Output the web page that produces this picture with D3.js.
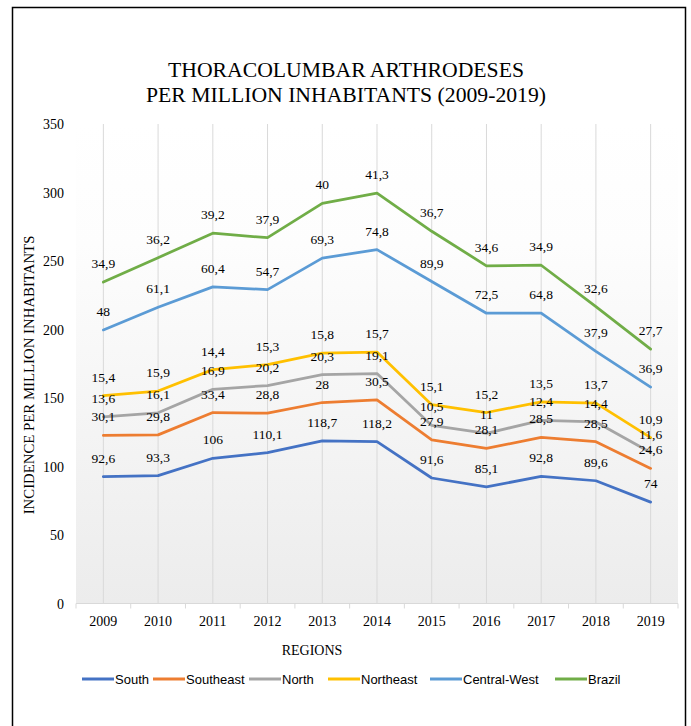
<!DOCTYPE html>
<html>
<head>
<meta charset="utf-8">
<script src="https://cdn.jsdelivr.net/npm/d3@7"></script>
<style>
  html, body { margin: 0; padding: 0; background: #fff; }
  svg text { fill: #000; }
</style>
</head>
<body>
<div id="chart"></div>
<script>
'use strict';

// years on the x axis
const years = ['2009', '2010', '2011', '2012', '2013', '2014', '2015', '2016', '2017', '2018', '2019'];

// per-region incidence (stacked in this order)
const south       = [92.6, 93.3, 106, 110.1, 118.7, 118.2, 91.6, 85.1, 92.8, 89.6, 74];
const southeast   = [30.1, 29.8, 33.4, 28.8, 28, 30.5, 27.9, 28.1, 28.5, 28.5, 24.6];
const north       = [13.6, 16.1, 16.9, 20.2, 20.3, 19.1, 10.5, 11, 12.4, 14.4, 11.6];
const northeast   = [15.4, 15.9, 14.4, 15.3, 15.8, 15.7, 15.1, 15.2, 13.5, 13.7, 10.9];
const centralWest = [48, 61.1, 60.4, 54.7, 69.3, 74.8, 89.9, 72.5, 64.8, 37.9, 36.9];
const brazil      = [34.9, 36.2, 39.2, 37.9, 40, 41.3, 36.7, 34.6, 34.9, 32.6, 27.7];

const seriesNames = ['South', 'Southeast', 'North', 'Northeast', 'Central-West', 'Brazil'];
const seriesVals  = [south, southeast, north, northeast, centralWest, brazil];
const yTicks      = [0, 50, 100, 150, 200, 250, 300, 350];

const colors = ['#4472C4', '#ED7D31', '#A5A5A5', '#FFC000', '#5B9BD5', '#70AD47'];

const W = 691, H = 726;
const plot = { left: 76, right: 678, top: 124, bottom: 603.5 };

const svg = d3.select('#chart').append('svg')
    .attr('width', W)
    .attr('height', H);

// outer frame
svg.append('rect')
    .attr('x', 12.5).attr('y', 7.5)
    .attr('width', 673).attr('height', 740)
    .attr('fill', '#fff')
    .attr('stroke', '#000')
    .attr('stroke-width', 1.5);

// plot background gradient
let defs = svg.append('defs');
let grad = defs.append('linearGradient')
    .attr('id', 'bg')
    .attr('x1', 0).attr('y1', 0).attr('x2', 0).attr('y2', 1);
grad.append('stop').attr('offset', '0%').attr('stop-color', '#ffffff');
grad.append('stop').attr('offset', '25%').attr('stop-color', '#fdfdfd');
grad.append('stop').attr('offset', '100%').attr('stop-color', '#ececec');

svg.append('rect')
    .attr('x', plot.left).attr('y', plot.top)
    .attr('width', plot.right - plot.left)
    .attr('height', plot.bottom - plot.top)
    .attr('fill', 'url(#bg)');

// scales
const x = d3.scaleBand().domain(years).range([plot.left, plot.right]);
const cx = d => x(d) + x.bandwidth() / 2;
const y = d3.scaleLinear().domain([0, 350]).range([plot.bottom, plot.top]);

// stacked table
const table = years.map((yr, i) =>
{
    let row = { year: yr };
    seriesNames.forEach((n, k) => row[n] = seriesVals[k][i]);
    return row;
});
const stacked = d3.stack().keys(seriesNames)(table);

// vertical gridlines
svg.append('g')
    .selectAll('line')
    .data(years)
    .enter()
    .append('line')
    .attr('x1', d => cx(d)).attr('x2', d => cx(d))
    .attr('y1', plot.top).attr('y2', plot.bottom)
    .attr('stroke', '#d9d9d9')
    .attr('stroke-width', 1);

// x axis line + boundary ticks
let xAxis = svg.append('g');
xAxis.append('line')
    .attr('x1', plot.left).attr('x2', plot.right)
    .attr('y1', plot.bottom).attr('y2', plot.bottom)
    .attr('stroke', '#d9d9d9').attr('stroke-width', 1);
xAxis.selectAll('line.tk')
    .data(d3.range(years.length + 1))
    .enter()
    .append('line')
    .attr('class', 'tk')
    .attr('x1', i => plot.left + i * x.step()).attr('x2', i => plot.left + i * x.step())
    .attr('y1', plot.bottom).attr('y2', plot.bottom + 5)
    .attr('stroke', '#d9d9d9').attr('stroke-width', 1);
xAxis.selectAll('text')
    .data(years)
    .enter()
    .append('text')
    .attr('x', d => cx(d))
    .attr('y', 625.5)
    .attr('text-anchor', 'middle')
    .style('font-family', '"Liberation Serif", "Times New Roman", serif')
    .style('font-size', '14px')
    .text(d => d);

// y tick labels
svg.append('g')
    .selectAll('text')
    .data(yTicks)
    .enter()
    .append('text')
    .attr('x', 64)
    .attr('y', d => y(d) + 5)
    .attr('text-anchor', 'end')
    .style('font-family', '"Liberation Serif", "Times New Roman", serif')
    .style('font-size', '14px')
    .text(d => d);

// lines
const line = d3.line()
    .x((d, i) => cx(years[i]))
    .y(d => y(d[1]));

svg.append('g')
    .selectAll('path')
    .data(stacked)
    .enter()
    .append('path')
    .attr('d', s => line(s))
    .attr('fill', 'none')
    .attr('stroke', (s, k) => colors[k])
    .attr('stroke-width', 2.75)
    .attr('stroke-linejoin', 'round')
    .attr('stroke-linecap', 'round');

// data labels
const fmt = v => String(v).replace('.', ',');
let lbl = svg.append('g');
stacked.forEach((s, k) =>
{
    lbl.selectAll('text.s' + k)
        .data(s)
        .enter()
        .append('text')
        .attr('class', 's' + k)
        .attr('x', (d, i) => cx(years[i]))
        .attr('y', d => y(d[1]) - 14)
        .attr('text-anchor', 'middle')
        .style('font-family', '"Liberation Serif", "Times New Roman", serif')
        .style('font-size', '13.5px')
        .text((d, i) => fmt(seriesVals[k][i]));
});

// title
let title = svg.append('text')
    .attr('x', 346)
    .attr('text-anchor', 'middle')
    .style('font-family', '"Liberation Serif", "Times New Roman", serif')
    .style('font-size', '21.7px');
title.append('tspan').attr('x', 346).attr('y', 77).text('THORACOLUMBAR ARTHRODESES');
title.append('tspan').attr('x', 346).attr('y', 102).text('PER MILLION INHABITANTS (2009-2019)');

// axis titles
svg.append('text')
    .attr('transform', 'translate(34,375) rotate(-90)')
    .attr('text-anchor', 'middle')
    .style('font-family', '"Liberation Serif", "Times New Roman", serif')
    .style('font-size', '14.8px')
    .text('INCIDENCE PER MILLION INHABITANTS');

svg.append('text')
    .attr('x', 312).attr('y', 655)
    .attr('text-anchor', 'middle')
    .style('font-family', '"Liberation Serif", "Times New Roman", serif')
    .style('font-size', '14px')
    .text('REGIONS');

// legend
const legendX = [82, 153, 249, 328, 430, 555];
let leg = svg.append('g')
    .selectAll('g')
    .data(seriesNames)
    .enter()
    .append('g')
    .attr('transform', (d, i) => `translate(${legendX[i]},679)`);
leg.append('line')
    .attr('x1', 0).attr('x2', 32)
    .attr('y1', 0).attr('y2', 0)
    .attr('stroke', (d, i) => colors[i])
    .attr('stroke-width', 3);
leg.append('text')
    .attr('x', 33)
    .attr('y', 4.5)
    .style('font-family', '"Liberation Sans", Arial, sans-serif')
    .style('font-size', '13px')
    .text(d => d);
</script>
</body>
</html>
